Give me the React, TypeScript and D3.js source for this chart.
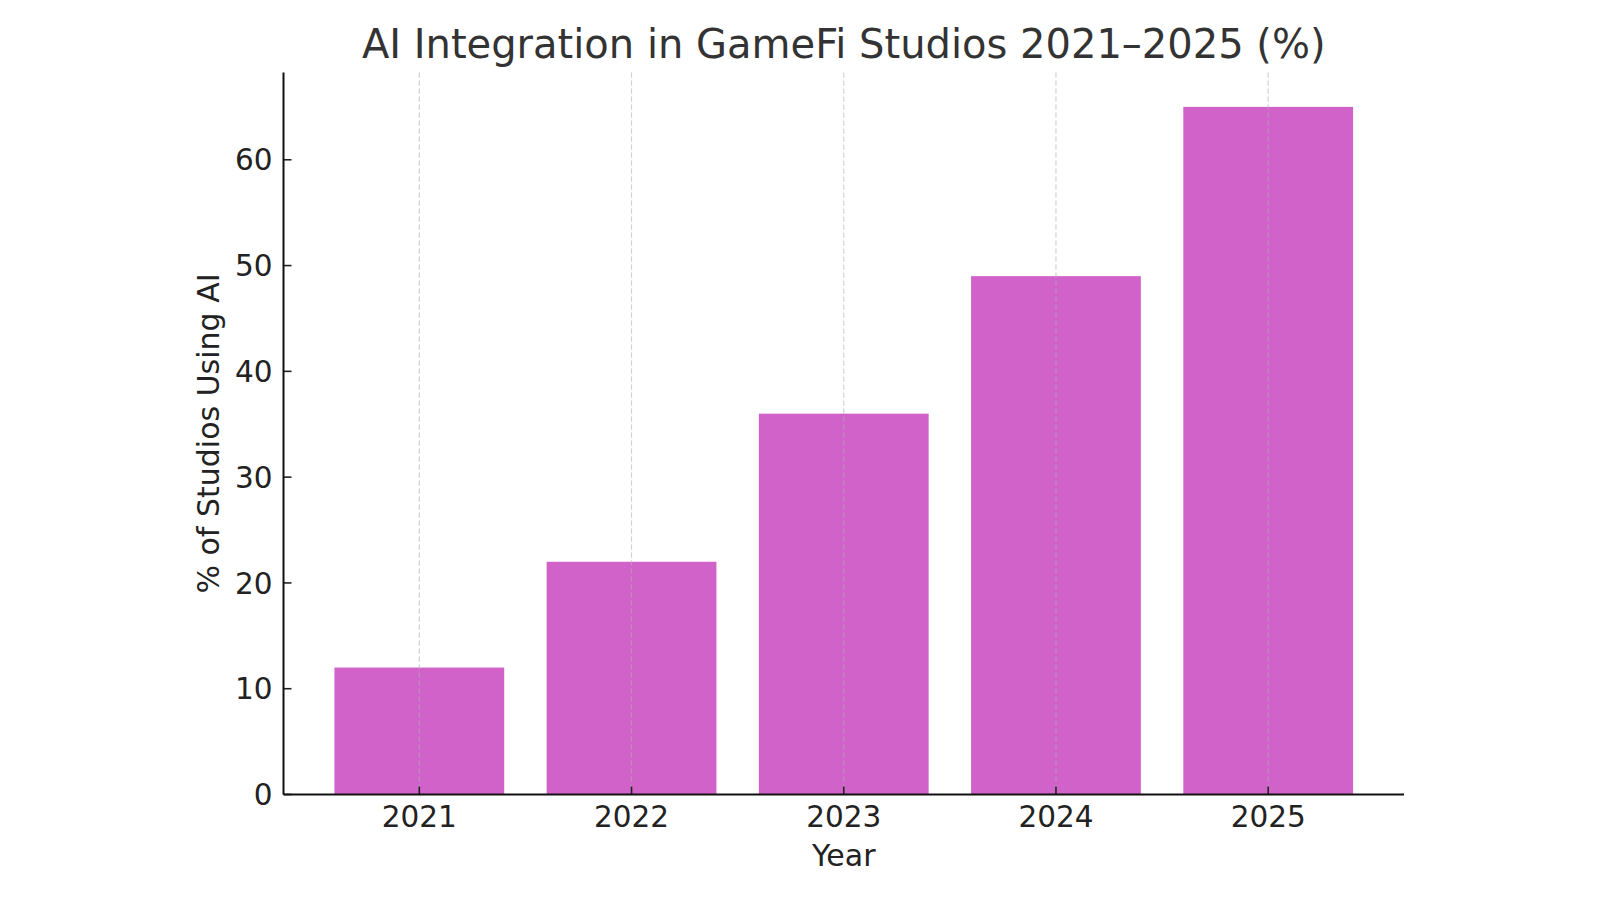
import React from 'react';
import * as d3 from 'd3';

const years = ['2021', '2022', '2023', '2024', '2025'];
const aiShare = [12, 22, 36, 49, 65];
const yTicks = [0, 10, 20, 30, 40, 50, 60];

const W = 1600;
const H = 900;
const margin = { top: 72.5, right: 196, bottom: 105.5, left: 283.5 };
const font = '"DejaVu Sans", sans-serif';

const App: React.FC = () => {
  const innerW = W - margin.left - margin.right;
  const innerH = H - margin.top - margin.bottom;

  // matplotlib-like x limits: bars 0.8 wide, 5% margins
  const x = d3.scaleLinear().domain([-0.64, years.length - 1 + 0.64]).range([0, innerW]);
  const y = d3.scaleLinear().domain([0, 68.25]).range([innerH, 0]);
  const barW = x(0.8) - x(0);

  return (
    <svg width={W} height={H} style={{ display: 'block', margin: -8 }} fontFamily={font}>
      <rect width={W} height={H} fill="#ffffff" />
      <text x={margin.left + innerW / 2} y={58} textAnchor="middle" fontSize={40} fill="#333333">
        AI Integration in GameFi Studios 2021–2025 (%)
      </text>
      <g transform={`translate(${margin.left},${margin.top})`}>
        {/* bars */}
        {aiShare.map((v, i) => (
          <rect
            key={years[i]}
            x={x(i) - barW / 2}
            y={y(v)}
            width={barW}
            height={innerH - y(v)}
            fill="#d062c9"
          />
        ))}
        {/* vertical dashed grid, drawn over bars */}
        {years.map((yr, i) => (
          <line
            key={`g-${yr}`}
            x1={x(i)}
            x2={x(i)}
            y1={0}
            y2={innerH}
            stroke="#b0b0b0"
            strokeOpacity={0.6}
            strokeWidth={1.2}
            strokeDasharray="5,3"
          />
        ))}
        {/* y ticks */}
        {yTicks.map((t) => (
          <g key={`y-${t}`} transform={`translate(0,${y(t)})`}>
            <line x1={0} x2={8} stroke="#222" strokeWidth={1.6} />
            <text x={-11} dy="0.36em" textAnchor="end" fontSize={29.5} fill="#222">
              {t}
            </text>
          </g>
        ))}
        {/* x ticks */}
        {years.map((yr, i) => (
          <g key={`x-${yr}`} transform={`translate(${x(i)},${innerH})`}>
            <line y1={0} y2={-8} stroke="#222" strokeWidth={1.6} />
            <text y={32.5} textAnchor="middle" fontSize={29.5} fill="#222">
              {yr}
            </text>
          </g>
        ))}
        {/* spines */}
        <line x1={0} x2={0} y1={0} y2={innerH} stroke="#111" strokeWidth={2} />
        <line x1={0} x2={innerW} y1={innerH} y2={innerH} stroke="#111" strokeWidth={2} />
        <text x={innerW / 2} y={innerH + 71.5} textAnchor="middle" fontSize={30} fill="#222">
          Year
        </text>
        <text
          transform={`translate(${219 - margin.left},${innerH / 2}) rotate(-90)`}
          textAnchor="middle"
          fontSize={30}
          fill="#222"
        >
          % of Studios Using AI
        </text>
      </g>
    </svg>
  );
};

export default App;
